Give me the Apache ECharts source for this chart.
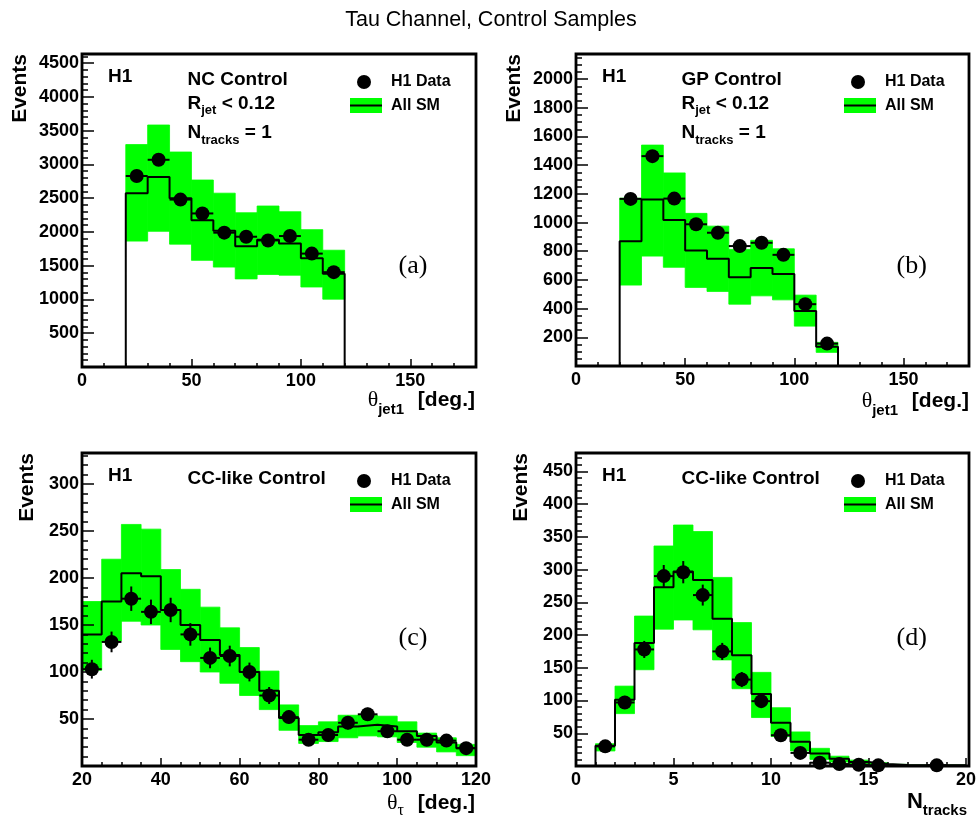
<!DOCTYPE html>
<html><head><meta charset="utf-8">
<title>Tau Channel, Control Samples</title>
<script src="https://cdn.jsdelivr.net/npm/echarts@6.0.0/dist/echarts.min.js"></script>
<style>html,body{margin:0;padding:0;background:#fff;}#chart{width:979px;height:820px;}</style>
</head><body>
<div id="chart"></div>
<script>
// ---------------- data ----------------
const titleText = 'Tau Channel, Control Samples';

// (a) NC Control, theta_jet1
const aEdges  = [20, 30, 40, 50, 60, 70, 80, 90, 100, 110, 120];
const aSM     = [2575, 2815, 2500, 2175, 2020, 1790, 1885, 1830, 1610, 1380];
const aUp     = [3295, 3585, 3185, 2770, 2575, 2285, 2385, 2300, 2035, 1730];
const aLo     = [1865, 2010, 1820, 1580, 1480, 1305, 1370, 1360, 1185, 1005];
const aDataX  = [25, 35, 45, 55, 65, 75, 85, 95, 105, 115];
const aData   = [2830, 3070, 2480, 2275, 1990, 1930, 1875, 1940, 1680, 1405];
const aErr    = [53, 55, 50, 48, 45, 44, 43, 44, 41, 37];
const aXTicks = [0, 50, 100, 150];
const aYTicks = [500, 1000, 1500, 2000, 2500, 3000, 3500, 4000, 4500];

// (b) GP Control, theta_jet1
const bEdges  = [20, 30, 40, 50, 60, 70, 80, 90, 100, 110, 120];
const bSM     = [869, 1160, 1017, 806, 747, 618, 684, 642, 384, 135];
const bUp     = [1170, 1540, 1346, 1064, 975, 813, 876, 817, 494, 165];
const bLo     = [564, 766, 688, 548, 520, 431, 489, 461, 278, 95];
const bDataX  = [25, 35, 45, 55, 65, 75, 85, 95, 105, 115];
const bData   = [1165, 1463, 1167, 988, 929, 836, 859, 775, 431, 156];
const bErr    = [34, 38, 34, 31, 30, 29, 29, 28, 21, 12];
const bXTicks = [0, 50, 100, 150];
const bYTicks = [200, 400, 600, 800, 1000, 1200, 1400, 1600, 1800, 2000];

// (c) CC-like Control, theta_tau
const cEdges  = [20, 25, 30, 35, 40, 45, 50, 55, 60, 65, 70, 75, 80, 85, 90, 95, 100, 105, 110, 115, 120];
const cSM     = [140, 175, 205, 202, 166, 150, 134, 118, 100, 80, 51, 33, 36, 42, 44, 42, 37, 32, 25, 19];
const cUp     = [175, 220, 257, 252, 209, 188, 169, 147, 126, 101, 65, 43, 47, 54, 54, 53, 47, 35, 30, 23];
const cLo     = [102, 133, 154, 150, 124, 111, 100, 88, 75, 60, 38, 24, 26, 30, 32, 31, 25, 20, 15, 11];
const cDataX  = [22.5, 27.5, 32.5, 37.5, 42.5, 47.5, 52.5, 57.5, 62.5, 67.5, 72.5, 77.5, 82.5, 87.5, 92.5, 97.5, 102.5, 107.5, 112.5, 117.5];
const cData   = [103, 132, 178, 164, 166, 140, 115, 117, 100, 75, 52, 28, 33, 46, 55, 37, 28, 28, 27, 19];
const cErr    = [10, 11, 13, 13, 13, 12, 11, 11, 10, 9, 7, 5, 6, 7, 7, 6, 5, 5, 5, 4];
const cXTicks = [20, 40, 60, 80, 100, 120];
const cYTicks = [50, 100, 150, 200, 250, 300];

// (d) CC-like Control, N_tracks
const dEdges  = [0, 1, 2, 3, 4, 5, 6, 7, 8, 9, 10, 11, 12, 13, 14, 15, 16, 17, 18, 19, 20];
const dSM     = [0, 31, 101, 188, 273, 297, 284, 225, 169, 110, 66, 37, 19, 11, 6, 3, 1.5, 1, 1, 1];
const dUp     = [0, 34, 122, 229, 336, 368, 358, 288, 219, 143, 89, 52, 27, 15, 9, 5, 2.5, 1.5, 1.5, 1.5];
const dLo     = [0, 23, 80, 147, 209, 223, 208, 162, 118, 74, 45, 23, 10, 6, 3, 1.5, 0.5, 0.5, 0.5, 0.5];
const dDataX  = [1.5, 2.5, 3.5, 4.5, 5.5, 6.5, 7.5, 8.5, 9.5, 10.5, 11.5, 12.5, 13.5, 14.5, 15.5, 18.5];
const dData   = [30, 97, 178, 290, 296, 261, 175, 132, 99, 47, 20, 5, 3, 2, 1, 1];
const dErr    = [5.5, 10, 13, 17, 17, 16, 13, 11.5, 10, 7, 4.5, 2.2, 1.7, 1.4, 1, 1];
const dXTicks = [0, 5, 10, 15, 20];
const dYTicks = [50, 100, 150, 200, 250, 300, 350, 400, 450];

// ---------------- layout / style ----------------
const SANS = '"Liberation Sans", Arial, Helvetica, sans-serif';
const SERIF = '"Liberation Serif", "Times New Roman", serif';
const GREEN = '#00ff00';

const panels = [
  { L: 82,  T: 54,  W: 394, H: 313, xMin: 0,  xMax: 180, xMinor: 10, yMax: 4637, yMinor: 100,
    xTicks: aXTicks, yTicks: aYTicks, edges: aEdges, sm: aSM, up: aUp, lo: aLo, dx: aDataX, dy: aData, de: aErr },
  { L: 576, T: 54,  W: 393, H: 312, xMin: 0,  xMax: 180, xMinor: 10, yMax: 2175, yMinor: 50,
    xTicks: bXTicks, yTicks: bYTicks, edges: bEdges, sm: bSM, up: bUp, lo: bLo, dx: bDataX, dy: bData, de: bErr },
  { L: 82,  T: 453, W: 394, H: 313, xMin: 20, xMax: 120, xMinor: 5, yMax: 333, yMinor: 10,
    xTicks: cXTicks, yTicks: cYTicks, edges: cEdges, sm: cSM, up: cUp, lo: cLo, dx: cDataX, dy: cData, de: cErr },
  { L: 576, T: 453, W: 393, H: 313, xMin: 0,  xMax: 20,  xMinor: 1, yMax: 478, yMinor: 10,
    xTicks: dXTicks, yTicks: dYTicks, edges: dEdges, sm: dSM, up: dUp, lo: dLo, dx: dDataX, dy: dData, de: dErr }
];

const near = (list, v) => list.some(t => Math.abs(t - v) < 1e-6);

const grid = [], xAxis = [], yAxis = [], series = [], graphic = [];

panels.forEach((p, i) => {
  grid.push({ left: p.L, top: p.T, width: p.W, height: p.H, show: false });
  const xMajor = p.xTicks[1] - p.xTicks[0];
  const yMajor = p.yTicks[1] - p.yTicks[0];
  const tickStyle = { color: '#000', width: 1.5 };
  // main x axis
  xAxis.push({ gridIndex: i, type: 'value', position: 'bottom', min: p.xMin, max: p.xMax, interval: xMajor, z: 10,
    axisLine: { show: false }, splitLine: { show: false },
    axisTick: { show: true, inside: true, length: 8, lineStyle: tickStyle },
    axisLabel: { show: true, margin: 5, color: '#000', fontSize: 18, fontWeight: 'bold', fontFamily: SANS,
      showMinLabel: true, showMaxLabel: true, hideOverlap: false,
      formatter: v => near(p.xTicks, v) ? String(v) : '' } });
  // minor x axis (ticks only)
  xAxis.push({ gridIndex: i, type: 'value', position: 'bottom', min: p.xMin, max: p.xMax, interval: p.xMinor, z: 10,
    axisLine: { show: false }, splitLine: { show: false }, axisLabel: { show: false },
    axisTick: { show: true, inside: true, length: 4, lineStyle: tickStyle } });
  // main y axis
  yAxis.push({ gridIndex: i, type: 'value', position: 'left', min: 0, max: p.yMax, interval: yMajor, z: 10,
    axisLine: { show: false }, splitLine: { show: false },
    axisTick: { show: true, inside: true, length: 12, lineStyle: tickStyle },
    axisLabel: { show: true, margin: 3, color: '#000', fontSize: 18, fontWeight: 'bold', fontFamily: SANS,
      showMinLabel: true, showMaxLabel: true, hideOverlap: false,
      formatter: v => near(p.yTicks, v) ? String(v) : '' } });
  // minor y axis
  yAxis.push({ gridIndex: i, type: 'value', position: 'left', min: 0, max: p.yMax, interval: p.yMinor, z: 10,
    axisLine: { show: false }, splitLine: { show: false }, axisLabel: { show: false },
    axisTick: { show: true, inside: true, length: 6, lineStyle: tickStyle } });

  const xi = 2 * i, yi = 2 * i;

  // SM uncertainty band
  const band = [];
  for (let k = 0; k < p.sm.length; k++) {
    if (p.up[k] > p.lo[k]) band.push([p.edges[k], p.edges[k + 1], p.lo[k], p.up[k]]);
  }
  series.push({ type: 'custom', xAxisIndex: xi, yAxisIndex: yi, z: 1, silent: true, data: band,
    renderItem: (params, api) => {
      const a = api.coord([api.value(0), api.value(3)]);
      const b = api.coord([api.value(1), api.value(2)]);
      return { type: 'rect', shape: { x: a[0], y: a[1], width: b[0] - a[0], height: b[1] - a[1] },
        style: { fill: GREEN, stroke: GREEN, lineWidth: 0.8 } };
    } });

  // SM histogram step line
  const step = [];
  if (p.xMin < p.edges[0]) step.push([p.xMin, 0]);
  for (let k = 0; k < p.sm.length; k++) step.push([p.edges[k], p.sm[k]]);
  step.push([p.edges[p.edges.length - 1], 0]);
  if (p.xMax > p.edges[p.edges.length - 1]) step.push([p.xMax, 0]);
  series.push({ type: 'line', step: 'end', xAxisIndex: xi, yAxisIndex: yi, z: 3, silent: true,
    data: step, symbol: 'none', lineStyle: { color: '#000', width: 2 } });

  // data error bars
  const hw = (p.edges[1] - p.edges[0]) / 2;
  const eb = p.dx.map((x, k) => [x, p.dy[k], p.de[k], hw]);
  series.push({ type: 'custom', xAxisIndex: xi, yAxisIndex: yi, z: 4, silent: true, data: eb,
    renderItem: (params, api) => {
      const x = api.value(0), y = api.value(1), e = api.value(2), w = api.value(3);
      const l = api.coord([x - w, y]), r = api.coord([x + w, y]);
      const t = api.coord([x, y + e]), b = api.coord([x, y - e]);
      return { type: 'group', children: [
        { type: 'line', shape: { x1: l[0], y1: l[1], x2: r[0], y2: r[1] }, style: { stroke: '#000', lineWidth: 2 } },
        { type: 'line', shape: { x1: t[0], y1: t[1], x2: b[0], y2: b[1] }, style: { stroke: '#000', lineWidth: 2 } }
      ] };
    } });

  // data points
  series.push({ type: 'scatter', xAxisIndex: xi, yAxisIndex: yi, z: 5, silent: true,
    data: p.dx.map((x, k) => [x, p.dy[k]]), symbol: 'circle', symbolSize: 14,
    itemStyle: { color: '#000', opacity: 1 } });

  // frame
  graphic.push({ type: 'rect', z: 100, silent: true, shape: { x: p.L, y: p.T, width: p.W, height: p.H },
    style: { fill: 'none', stroke: '#000', lineWidth: 2.8 } });

  // H1 label
  graphic.push({ type: 'text', z: 100, silent: true, style: { x: p.L + 26, y: p.T + 23, text: 'H1',
    font: 'bold 19px ' + SANS, fill: '#000', align: 'left', verticalAlign: 'middle' } });

  // legend
  graphic.push({ type: 'circle', z: 100, silent: true, shape: { cx: p.L + 282, cy: p.T + 28, r: 7 }, style: { fill: '#000' } });
  graphic.push({ type: 'rect', z: 100, silent: true, shape: { x: p.L + 268, y: p.T + 44, width: 32, height: 15 }, style: { fill: GREEN } });
  graphic.push({ type: 'line', z: 101, silent: true, shape: { x1: p.L + 268, y1: p.T + 51.5, x2: p.L + 300, y2: p.T + 51.5 }, style: { stroke: '#000', lineWidth: 2 } });
  graphic.push({ type: 'text', z: 100, silent: true, style: { x: p.L + 309, y: p.T + 28, text: 'H1 Data',
    font: 'bold 16px ' + SANS, fill: '#000', align: 'left', verticalAlign: 'middle' } });
  graphic.push({ type: 'text', z: 100, silent: true, style: { x: p.L + 309, y: p.T + 51.5, text: 'All SM',
    font: 'bold 16px ' + SANS, fill: '#000', align: 'left', verticalAlign: 'middle' } });
});

// panel headers
const headers = ['NC Control', 'GP Control', 'CC-like Control', 'CC-like Control'];
headers.forEach((h, i) => {
  const p = panels[i];
  graphic.push({ type: 'text', z: 100, silent: true, style: { x: p.L + 105.5, y: p.T + 26, text: h,
    font: 'bold 19px ' + SANS, fill: '#000', align: 'left', verticalAlign: 'middle' } });
});
// cut lines for (a),(b)
const mainRich = { m: { fontSize: 19, fontWeight: 'bold', fontFamily: SANS, fill: '#000' },
                   s: { fontSize: 13, fontWeight: 'bold', fontFamily: SANS, fill: '#000', padding: [14, 0, 0, 0] } };
[0, 1].forEach(i => {
  const p = panels[i];
  graphic.push({ type: 'text', z: 100, silent: true, style: { x: p.L + 105.5, y: p.T + 49.5,
    text: '{m|R}{s|jet}{m| < 0.12}', rich: mainRich, align: 'left', verticalAlign: 'middle' } });
  graphic.push({ type: 'text', z: 100, silent: true, style: { x: p.L + 105.5, y: p.T + 79,
    text: '{m|N}{s|tracks}{m| = 1}', rich: mainRich, align: 'left', verticalAlign: 'middle' } });
});

// panel letters
const letters = ['(a)', '(b)', '(c)', '(d)'];
const letterPos = [[413, 266], [911.7, 266], [413, 638], [911.7, 638]];
letters.forEach((t, i) => {
  graphic.push({ type: 'text', z: 100, silent: true, style: { x: letterPos[i][0], y: letterPos[i][1], text: t,
    font: '26px ' + SERIF, fill: '#000', align: 'center', verticalAlign: 'middle' } });
});

// y-axis titles
const evX = [20, 514, 27.5, 521.7];
panels.forEach((p, i) => {
  graphic.push({ type: 'text', z: 100, silent: true, x: evX[i], y: p.T, rotation: Math.PI / 2,
    style: { x: 0, y: 0, text: 'Events', font: 'bold 21px ' + SANS, fill: '#000', align: 'right', verticalAlign: 'middle' } });
});

// x-axis titles
const xtRich = {
  th: { fontSize: 22, fontFamily: SERIF, fill: '#000' },
  sub: { fontSize: 15, fontWeight: 'bold', fontFamily: SANS, fill: '#000', padding: [20, 0, 0, 0] },
  tau: { fontSize: 16, fontFamily: SERIF, fill: '#000', padding: [16, 0, 0, 0] },
  m: { fontSize: 21, fontWeight: 'bold', fontFamily: SANS, fill: '#000', padding: [0, 0, 0, 8] },
  n: { fontSize: 22, fontWeight: 'bold', fontFamily: SANS, fill: '#000' },
  nsub: { fontSize: 15, fontWeight: 'bold', fontFamily: SANS, fill: '#000', padding: [18, 0, 0, 0] }
};
const xTitles = [
  { x: 475, y: 400, text: '{th|θ}{sub|jet1}{m| [deg.]}' },
  { x: 969, y: 401, text: '{th|θ}{sub|jet1}{m| [deg.]}' },
  { x: 475, y: 803, text: '{th|θ}{tau|τ}{m| [deg.]}' },
  { x: 967, y: 802, text: '{n|N}{nsub|tracks}' }
];
xTitles.forEach(t => {
  graphic.push({ type: 'text', z: 100, silent: true, style: { x: t.x, y: t.y, text: t.text, rich: xtRich,
    align: 'right', verticalAlign: 'middle' } });
});

// main title
graphic.push({ type: 'text', z: 100, silent: true, style: { x: 491, y: 20, text: titleText,
  font: '21.5px ' + SANS, fill: '#000', align: 'center', verticalAlign: 'middle' } });

const chart = echarts.init(document.getElementById('chart'), null, { renderer: 'canvas' });
chart.setOption({
  backgroundColor: '#fff',
  animation: false,
  grid, xAxis, yAxis, series, graphic
});
</script>
</body></html>
